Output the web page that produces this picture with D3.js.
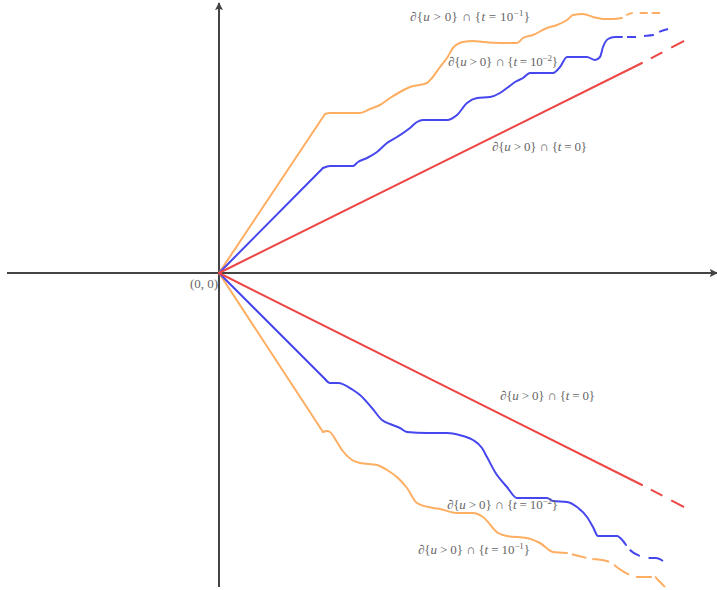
<!DOCTYPE html>
<html>
<head>
<meta charset="utf-8">
<script src="https://cdn.jsdelivr.net/npm/d3@7"></script>
<style>
  html, body { margin: 0; padding: 0; background: #fff; }
  svg { display: block; }
  .lbl { font-family: 'Liberation Serif', 'DejaVu Serif', serif; font-size: 13px; fill: #666; }
</style>
</head>
<body>
<div id="chart"></div>
<script>
// free-boundary curves, coordinates relative to the origin (0,0)
const redUpper = [[0, 0], [423, 210]];
const redUpperTail = [[423, 210], [465, 232]];
const redLower = [[0, 0], [423, -212]];
const redLowerTail = [[423, -212], [465, -234]];

const blueUpper = [[0, 0], [104, 105], [111, 107], [134, 107], [139, 111], [148, 115], [158, 121], [168, 130],
  [178, 136], [191, 145], [198, 151], [204, 153], [228, 153], [238, 158], [248, 170], [258, 175], [271, 176],
  [281, 180], [288, 185], [296, 191], [304, 195], [311, 200], [334, 200], [341, 206], [348, 216], [368, 216],
  [376, 213], [381, 216], [384, 226], [389, 234], [396, 236], [403, 236]];
const blueUpperTail = [[403, 236], [416, 236], [424, 237], [434, 238], [440, 241], [449, 244]];

const orangeUpper = [[0, 0], [106, 159], [111, 160], [141, 160], [151, 164], [161, 168], [171, 175], [181, 181],
  [191, 186], [208, 190], [213, 195], [221, 206], [228, 215], [234, 225], [244, 231], [254, 232], [264, 231],
  [281, 230], [298, 230], [304, 235], [314, 238], [328, 245], [338, 248], [348, 253], [354, 258], [364, 259],
  [374, 256], [384, 254], [394, 254], [403, 255]];
const orangeUpperTail = [[403, 255], [414, 260], [441, 260]];

const blueLower = [[0, 0], [106, -106], [111, -110], [119, -110], [134, -117], [141, -122], [153, -135],
  [163, -147], [171, -151], [181, -155], [188, -159], [208, -160], [228, -160], [244, -163], [254, -167],
  [263, -175], [268, -184], [276, -199], [288, -214], [298, -225], [328, -225], [334, -228], [348, -229],
  [358, -234], [368, -244], [374, -254], [379, -263], [398, -263], [404, -268], [407, -272]];
const blueLowerTail = [[407, -272], [411, -277], [421, -283], [429, -285], [437, -285], [444, -288]];

const orangeLower = [[0, 0], [104, -159], [108, -158], [111, -159], [118, -169], [123, -177], [133, -187],
  [141, -190], [158, -192], [168, -197], [179, -205], [188, -215], [198, -230], [214, -235], [221, -236],
  [238, -240], [254, -240], [264, -244], [279, -260], [288, -263], [308, -265], [321, -270], [334, -279],
  [348, -280]];
const orangeLowerTail = [[348, -280], [368, -285], [391, -289], [399, -295], [414, -303], [421, -304],
  [436, -304], [439, -307], [446, -314]];

// label texts: exponent of t, anchored in data coords
const labelTimes = ['-1', '-2', '0', '0', '-2', '-1'];
const labelAnchors = [[191, 252], [229, 207], [273, 122], [281, -127], [228, -236], [199, -281]];
const labelWidths = [120, 110, 95, 95, 111, 112];

const W = 717, H = 590;
const x = d3.scaleLinear().domain([-219, 498]).range([0, W]);
const y = d3.scaleLinear().domain([273, -317]).range([0, H]);

const svg = d3.select('#chart').append('svg')
  .attr('width', W)
  .attr('height', H);

const defs = svg.append('defs');
defs.append('marker')
  .attr('id', 'arrow')
  .attr('viewBox', '0 0 10 10')
  .attr('refX', 9).attr('refY', 5)
  .attr('markerWidth', 4).attr('markerHeight', 5)
  .attr('markerUnits', 'strokeWidth')
  .attr('orient', 'auto')
  .append('path')
  .attr('d', 'M0,0 L10,5 L0,10 L2,5 Z')
  .attr('fill', '#444');

// axes
svg.append('line')
  .attr('x1', x(-212)).attr('x2', x(498))
  .attr('y1', y(0)).attr('y2', y(0))
  .attr('stroke', '#444').attr('stroke-width', 2)
  .attr('marker-end', 'url(#arrow)');
svg.append('line')
  .attr('x1', x(0)).attr('x2', x(0))
  .attr('y1', y(-314)).attr('y2', y(270))
  .attr('stroke', '#444').attr('stroke-width', 2)
  .attr('marker-end', 'url(#arrow)');

const line = d3.line().x(d => x(d[0])).y(d => y(d[1]));
const smooth = d3.line().x(d => x(d[0])).y(d => y(d[1])).curve(d3.curveMonotoneX);

const RED = '#ee4545', BLUE = '#4646ee', ORANGE = '#fdae62';

const curves = [
  { pts: orangeUpper, tail: orangeUpperTail, color: ORANGE, dash: '0,5,7,7,8,4,8' },
  { pts: orangeLower, tail: orangeLowerTail, color: ORANGE, dash: '0,5,15,6,17,6,18,7,16,3,12' },
  { pts: blueUpper, tail: blueUpperTail, color: BLUE, dash: '0,5,9,8,10,6,10' },
  { pts: blueLower, tail: blueLowerTail, color: BLUE, dash: '0,6,12,9,16' },
  { pts: redUpper, tail: redUpperTail, color: RED, dash: '0,10,13,10,13' },
  { pts: redLower, tail: redLowerTail, color: RED, dash: '0,10,13,10,13' }
];

curves.forEach(c => {
  // straight ray from the origin to the first kink, then the wavy front
  const g = svg.append('g')
    .attr('fill', 'none')
    .attr('stroke', c.color)
    .attr('stroke-width', 2)
    .attr('stroke-linejoin', 'round')
    .attr('stroke-linecap', 'round');
  g.append('path').attr('d', line(c.pts.slice(0, 2)));
  if (c.pts.length > 2) g.append('path').attr('d', smooth(c.pts.slice(1)));
  g.append('path')
    .attr('d', smooth(c.tail))
    .attr('stroke-linecap', 'butt')
    .attr('stroke-dasharray', c.dash);
});

// labels
labelTimes.forEach((t, i) => {
  const a = labelAnchors[i];
  const txt = svg.append('text')
    .attr('class', 'lbl')
    .attr('x', x(a[0]))
    .attr('y', y(a[1]))
    .attr('textLength', labelWidths[i])
    .attr('lengthAdjust', 'spacing');
  txt.append('tspan').text('\u2202{');
  txt.append('tspan').attr('font-style', 'italic').text('u');
  txt.append('tspan').text(' > 0} \u2229 {');
  txt.append('tspan').attr('font-style', 'italic').text('t');
  if (t === '0') {
    txt.append('tspan').text(' = 0}');
  } else {
    txt.append('tspan').text(' = 10');
    txt.append('tspan').attr('dy', -5).attr('font-size', 9).text(t.replace('-', '\u2212'));
    txt.append('tspan').attr('dy', 5).text('}');
  }
});

svg.append('text')
  .attr('class', 'lbl')
  .attr('x', x(-29))
  .attr('y', y(-15))
  .text('(0, 0)');
</script>
</body>
</html>
